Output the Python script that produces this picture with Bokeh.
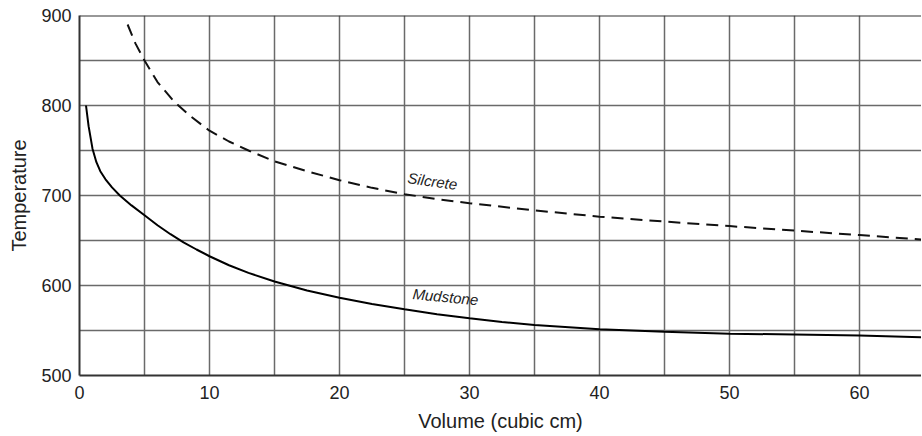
import math
from bokeh.plotting import figure
from bokeh.models import FixedTicker, Range1d, Span
from bokeh.core.properties import value
from bokeh.embed import file_html
from bokeh.resources import INLINE

# Data
mud_x = [0.5, 0.7, 1.0, 1.3, 1.6, 2.0, 2.5, 3.1, 4.0, 5.0, 6.0, 7.0, 8.0, 9.0, 10,
         11.5, 13, 15, 17.5, 20, 22.5, 25, 27.5, 30, 32.5, 35, 40, 45, 50, 55, 60, 64.8]
mud_y = [800, 777, 752, 737, 727, 718, 709, 700, 689, 678, 667, 657, 648, 640, 632.5,
         622.5, 614, 604.5, 594.5, 586.5, 579.5, 573.5, 568, 563.5, 559.5, 556, 551.5,
         548.5, 546.5, 545.5, 544.5, 542.5]
sil_x = [3.7, 4.3, 5.0, 6.0, 7.3, 8.5, 10, 11.5, 13, 15, 17.5, 20, 22.5, 25, 27.5, 30,
         35, 40, 45, 50, 55, 60, 64.8]
sil_y = [890, 869, 850, 826, 804, 788.5, 772, 760, 750, 738, 727, 717, 708.5, 701.5, 696,
         691.5, 683.5, 676.5, 671, 666, 661, 656, 651]
x_ticks = [0, 10, 20, 30, 40, 50, 60]
y_ticks = [500, 600, 700, 800, 900]
x_grid = [0, 5, 10, 15, 20, 25, 30, 35, 40, 45, 50, 55, 60, 65]
y_grid = [500, 550, 600, 650, 700, 750, 800, 850, 900]
series_labels = ["Silcrete", "Mudstone"]

FONT = "Liberation Sans"

p = figure(width=921, height=434, output_backend="svg", toolbar_location=None,
           x_range=Range1d(0, 64.77), y_range=Range1d(500, 900),
           min_border_left=79, min_border_top=15, min_border_right=0,
           min_border_bottom=58)
p.outline_line_color = None
p.background_fill_color = "white"
p.border_fill_color = "white"

for g, t in ((p.xgrid, x_grid), (p.ygrid, y_grid)):
    g.ticker = FixedTicker(ticks=t)
    g.grid_line_color = "#6a6a6a"
    g.grid_line_width = 1.5

p.xaxis.ticker = FixedTicker(ticks=x_ticks)
p.yaxis.ticker = FixedTicker(ticks=y_ticks)
for ax in (p.xaxis[0], p.yaxis[0]):
    ax.major_tick_line_color = None
    ax.minor_tick_line_color = None
    ax.major_tick_out = 0
    ax.major_tick_in = 0
    ax.minor_tick_out = 0
    ax.axis_line_color = "#333333"
    ax.axis_line_width = 2
    ax.major_label_text_font = FONT
    ax.major_label_text_font_size = "18px"
    ax.major_label_text_color = "#222222"
    ax.axis_label_text_font = FONT
    ax.axis_label_text_font_size = "20px"
    ax.axis_label_text_font_style = "normal"
    ax.axis_label_text_color = "#222222"
p.xaxis.axis_label = "Volume (cubic cm)"
p.yaxis.axis_label = "Temperature"
p.xaxis.major_label_standoff = 10
p.yaxis.major_label_standoff = 8
p.xaxis.axis_label_standoff = 8
p.yaxis.axis_label_standoff = 8

p.add_layout(Span(location=900, dimension="width", line_color="#333333", line_width=2))

p.line(mud_x, mud_y, line_color="black", line_width=2)
p.line(sil_x, sil_y, line_color="#111111", line_width=2, line_dash="12 7")

p.text(x=[27.15], y=[716], text=[series_labels[0]], angle=math.radians(-8),
       text_align="center", text_baseline="middle", text_font=value(FONT),
       text_font_style="italic", text_font_size="15px", text_color="#222222")
p.text(x=[28.15], y=[587.5], text=[series_labels[1]], angle=math.radians(-5.5),
       text_align="center", text_baseline="middle", text_font=value(FONT),
       text_font_style="italic", text_font_size="15px", text_color="#222222")

open("out.html", "w").write(file_html(p, INLINE))
